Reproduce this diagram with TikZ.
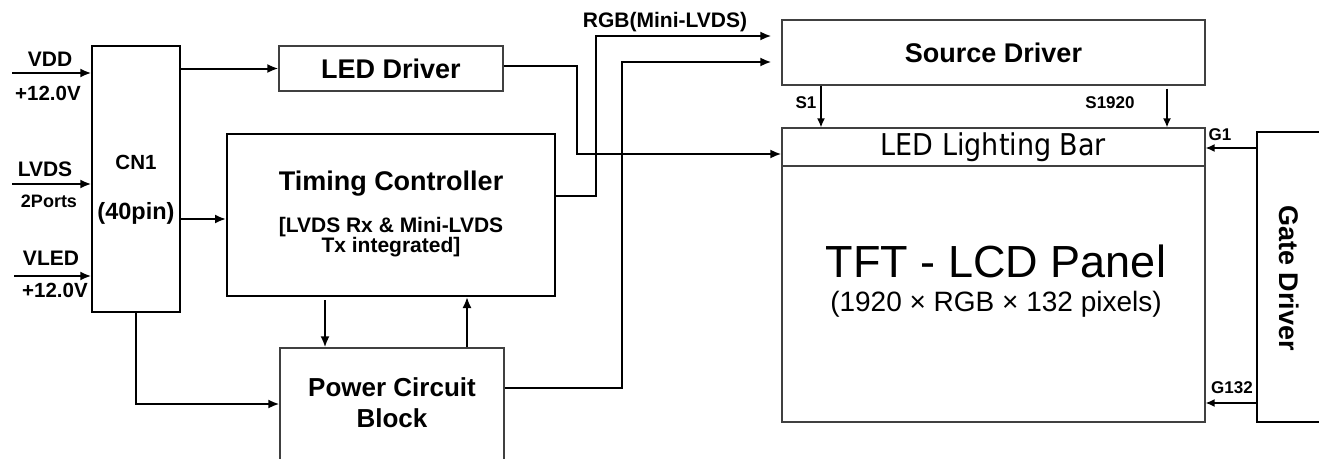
\documentclass[tikz,border=0pt]{standalone}
\usepackage{fontspec}
\setmainfont{Liberation Sans}
\newfontfamily\barfont{DejaVu Sans Condensed}
\usetikzlibrary{arrows.meta}

\newcommand{\fs}[1]{\fontsize{#1}{#1}\selectfont}

\begin{document}
\begin{tikzpicture}[x=1pt, y=-1pt, >={Latex[length=11pt,width=9pt]},
  box/.style={draw=black!75, line width=1.3pt, inner sep=0pt},
  wire/.style={->, line width=2pt},
  pin/.style={->, line width=1.4pt, >={Latex[length=9pt,width=8pt]}},
  lbl/.style={font=\bfseries\fs{21}, inner sep=0pt},
  tiny/.style={font=\bfseries\fs{17}, inner sep=0pt},
  big/.style={font=\bfseries\fs{27}, inner sep=0pt, align=center}]
  \useasboundingbox (0,0) rectangle (1319,458);

  % boxes
  \node[box, draw=black, minimum width=88pt, minimum height=266pt] (cn1) at (136,179) {};
  \node[box, font=\bfseries\fs{27}, minimum width=224pt, minimum height=45pt] (led) at (391,68.5) {LED Driver};
  \node[box, draw=black, line width=2pt, minimum width=328pt, minimum height=162pt] (tcon) at (391,215) {};
  \node[box, minimum width=224pt, minimum height=112pt] (pwr) at (392,404) {};
  \node[box, font=\bfseries\fs{27}, minimum width=423pt, minimum height=65pt] (src) at (993.5,52.5) {Source Driver};
  \node[box, minimum width=423pt, minimum height=294pt] (panel) at (993.5,275) {};
  \node[box, font=\barfont\fs{30}, minimum width=423pt, minimum height=38pt] (bar) at (993.5,147) {LED Lighting Bar};
  \node[box, draw=black, minimum width=80pt, minimum height=290pt] (gate) at (1297,277) {};

  % texts in the boxes
  \node[font=\bfseries\fs{20.5}, inner sep=0pt] (cn1name) at (136,162) {CN1};
  \node[font=\bfseries\fs{23.5}, inner sep=0pt] (cn1pins) at (136,213) {(40pin)};
  \node[big] (tconname) at (391,184) {Timing Controller};
  \node[font=\bfseries\fontsize{21}{19.5}\selectfont, inner sep=0pt, align=center] (tconsub) at (391,237) {[LVDS Rx \& Mini-LVDS\\Tx integrated]};
  \node[font=\bfseries\fontsize{26}{31}\selectfont, inner sep=0pt, align=center] (pwrname) at (392,403) {Power Circuit\\Block};
  \node[font=\fs{45}, inner sep=0pt] (tft) at (996,261) {TFT - LCD Panel};
  \node[font=\fs{28}, inner sep=0pt] (tftsize) at (996,304) {(1920 × RGB × 132 pixels)};
  \node[big, rotate=-90] (gatename) at (1289,278) {Gate Driver};

  % inputs
  \coordinate (vddin) at (12,73);
  \coordinate (lvdsin) at (12,184);
  \coordinate (vledin) at (14,276);
  \draw[wire, line width=2.4pt] (vddin) -- (vddin -| cn1.west);
  \draw[wire, line width=2.4pt] (lvdsin) -- (lvdsin -| cn1.west);
  \draw[wire, line width=2.4pt] (vledin) -- (vledin -| cn1.west);
  \node[lbl] (vdd) at (50,59) {VDD};
  \node[lbl, font=\bfseries\fs{20.5}] (vddvolt) at (48,93) {+12.0V};
  \node[lbl] (lvds) at (45,169) {LVDS};
  \node[lbl, font=\bfseries\fs{18}] (ports) at (49,201) {2Ports};
  \node[lbl] (vled) at (51,258) {VLED};
  \node[lbl, font=\bfseries\fs{20.5}] (vledvolt) at (55,290) {+12.0V};

  % connectors
  \draw[wire] (cn1.east |- led.west) -- (led.west);
  \draw[wire] (cn1.east |- 0,219) -- (tcon.west |- 0,219);
  \draw[wire] (cn1.south) |- (pwr.west |- 0,404);
  \draw[wire] (tcon.south -| 325,0) ++(0,3) -- (pwr.north -| 325,0);
  \draw[wire] (pwr.north -| 467,0) -- (tcon.south -| 467,0);
  \draw[wire, shorten >=10pt] (tcon.east |- 0,196) -| (596,36) -- (src.west |- 0,36);
  \draw[wire, shorten >=10pt] (pwr.east |- 0,388) -| (622,62) -- (src.west |- 0,62);
  \draw[wire] (led.east |- 0,66) -| (577,154) -- (bar.west |- 0,154);
  \node[lbl] (rgb) at (665,22) {RGB(Mini-LVDS)};

  % source and gate lines
  \draw[pin] (src.south -| 821,0) -- (bar.north -| 821,0);
  \draw[pin] (src.south -| 1167,0) ++(0,3) -- (bar.north -| 1167,0);
  \draw[pin] (gate.west |- 0,148) -- (bar.east |- 0,148);
  \draw[pin] (gate.west |- 0,403) -- (panel.east |- 0,403);
  \node[tiny] (s1) at (806,103) {S1};
  \node[tiny] (s1920) at (1110,103) {S1920};
  \node[tiny] (g1) at (1220,135) {G1};
  \node[tiny] (g132) at (1232,388) {G132};
\end{tikzpicture}
\end{document}
